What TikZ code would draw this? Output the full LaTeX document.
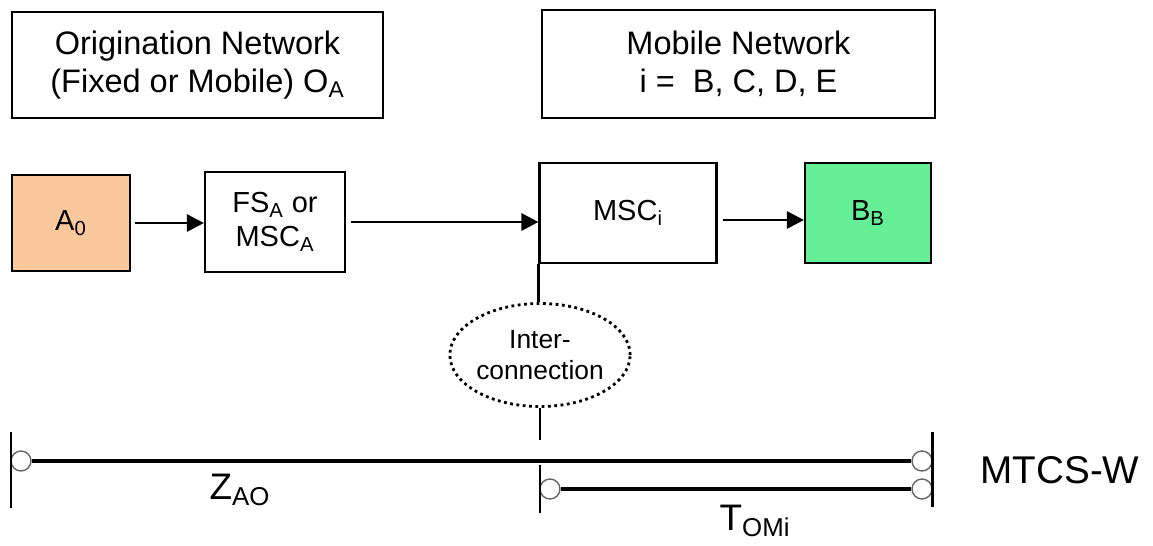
\documentclass[tikz,border=0pt]{standalone}
\usepackage{fontspec}
\setmainfont{Liberation Sans}
\usetikzlibrary{%
  arrows.meta,%
  shapes,%
  positioning,% wg. " of "
  calc%
}
\definecolor{origfill}{RGB}{250,200,156}
\definecolor{destfill}{RGB}{100,238,150}

\begin{document}
\begin{tikzpicture}[
  >={Triangle[length=3.4mm, width=3.4mm]},
  line width=1.1pt,
  netbox/.style={rectangle, draw=black, line width=1.2pt, align=center, font=\fontsize{18.5}{21.5}\selectfont},
  elbox/.style={rectangle, draw=black, line width=1.2pt, align=center, inner sep=0pt, font=\fontsize{16.5}{19.5}\selectfont},
  endpt/.style={circle, draw=black!60, fill=white, line width=0.8pt, inner sep=0pt, minimum size=4mm},
  meas/.style={line width=2.3pt},
  tick/.style={line width=1.7pt},
  link/.style={->, line width=1.6pt}]

\useasboundingbox (0,0) rectangle (23.06,-10.9);

\node[netbox, minimum width=7.42cm, minimum height=2.12cm] (orig) at (3.95,-1.3) {Origination Network\\(Fixed or Mobile) O\textsubscript{A}};
\node[netbox, minimum width=7.86cm, minimum height=2.16cm] (mob) at (14.77,-1.28) {Mobile Network\\i = \ B, C, D, E};

\node[elbox, fill=origfill, minimum width=2.36cm, minimum height=1.92cm] (a0) at (1.42,-4.46) {A\textsubscript{0}};
\node[elbox, minimum width=2.8cm, minimum height=2cm] (fs) at (5.5,-4.44) {FS\textsubscript{A} or\\MSC\textsubscript{A}};
\node[elbox, minimum width=3.54cm, minimum height=2cm] (msc) at (12.56,-4.26) {MSC\textsubscript{i}};
\node[elbox, fill=destfill, minimum width=2.52cm, minimum height=2cm] (bb) at (17.36,-4.26) {B\textsubscript{B}};

\draw[link] (a0.east) ++(0.08,0) -- (fs.west |- a0.east);
\draw[link] (fs.east) ++(0.1,0) -- (msc.west |- fs.east);
\draw[link] ($(msc.east)+(0.1,-0.14)$) -- ($(bb.west)+(0,-0.14)$);

\node[ellipse, draw, dotted, line width=1.6pt, minimum width=3.42cm, minimum height=2.06cm, align=center, inner sep=0pt, font=\fontsize{15}{18}\selectfont] (ic) at (10.8,-7.1) {Inter-\\connection};
\draw[tick] (msc.south west) -- (msc.south west |- ic.north);
\coordinate (icend) at (10.8,-8.8);
\draw[tick] (ic.south) -- (icend);

% measurement lines
\node[endpt] (zs) at (0.42,-9.22) {};
\node[endpt] (ze) at (18.44,-9.22) {};
\node[endpt] (ts) at (11.0,-9.78) {};
\node[endpt] (te) at (18.44,-9.78) {};
\draw[meas] (zs) -- (ze);
\draw[meas] (ts) -- (te);

\draw[tick] (0.22,-8.64) -- (0.22,-10.16);
\draw[tick] (18.64,-8.64) -- (18.64,-10.14);
\draw[tick] (10.8,-9.3) -- (10.8,-10.26);

\node[font=\fontsize{21}{25}\selectfont] (zao) at (4.8,-9.8) {Z\textsubscript{AO}};
\node[font=\fontsize{21}{25}\selectfont] (tomi) at (15.1,-10.42) {T\textsubscript{OMi}};
\node[font=\fontsize{22}{26}\selectfont] (mtcs) at (21.2,-9.4) {MTCS-W};

\end{tikzpicture}
\end{document}
